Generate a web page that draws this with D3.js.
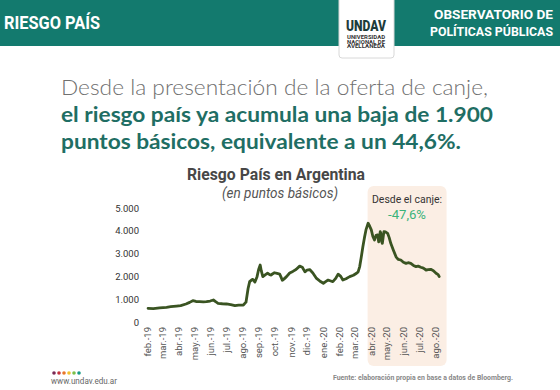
<!DOCTYPE html>
<html><head><meta charset="utf-8">
<script src="https://cdn.jsdelivr.net/npm/d3@7"></script>
<style>
html,body{margin:0;padding:0;background:#fff;}
svg{display:block;}
</style></head>
<body>
<svg id="c" width="560" height="390"></svg>
<script>
// ---- data ----
const dates = ["2019-02-03","2019-02-13","2019-02-25","2019-03-10","2019-03-18","2019-03-29","2019-04-06","2019-04-16","2019-04-23","2019-04-29",
"2019-05-05","2019-05-12","2019-05-19","2019-05-25","2019-06-01","2019-06-07","2019-06-12","2019-06-16","2019-06-24","2019-07-02",
"2019-07-10","2019-07-18","2019-07-25","2019-08-03","2019-08-08","2019-08-12","2019-08-15","2019-08-19","2019-08-21","2019-08-25",
"2019-08-29","2019-09-01","2019-09-04","2019-09-06","2019-09-09","2019-09-14","2019-09-18","2019-09-22","2019-09-25","2019-09-28",
"2019-10-01","2019-10-06","2019-10-11","2019-10-13","2019-10-16","2019-10-19","2019-10-24","2019-10-30","2019-11-05","2019-11-11",
"2019-11-18","2019-11-23","2019-11-28","2019-12-02","2019-12-07","2019-12-13","2019-12-20","2019-12-26","2020-01-02","2020-01-07",
"2020-01-11","2020-01-16","2020-01-20","2020-01-25","2020-01-30","2020-02-04","2020-02-08","2020-02-14","2020-02-21","2020-02-28",
"2020-03-05","2020-03-08","2020-03-11","2020-03-14","2020-03-17","2020-03-20","2020-03-23","2020-03-27","2020-03-30","2020-04-02",
"2020-04-05","2020-04-08","2020-04-11","2020-04-14","2020-04-16","2020-04-17","2020-04-19","2020-04-20","2020-04-22","2020-04-23",
"2020-04-25","2020-04-26","2020-04-29","2020-05-03","2020-05-06","2020-05-09","2020-05-14","2020-05-19","2020-05-23","2020-05-28",
"2020-06-02","2020-06-07","2020-06-11","2020-06-16","2020-06-21","2020-06-26","2020-06-30","2020-07-05","2020-07-10","2020-07-15",
"2020-07-19","2020-07-24","2020-07-29","2020-08-03","2020-08-07","2020-08-09"];
const values = [600,590,620,645,670,700,720,790,860,935,
900,890,880,890,920,965,880,820,800,790,
760,720,740,745,870,1470,1770,1850,1870,1750,
1990,2300,2500,2250,1990,2080,2140,2080,2060,2120,
2160,2130,2100,2000,1830,1880,1990,2150,2220,2300,
2450,2400,2200,2280,2300,2150,1910,1800,1700,1780,
1840,1800,1770,1900,2100,2000,1840,1900,1990,2050,
2140,2200,2430,2850,3300,3700,4050,4330,4200,4040,
3750,3600,3800,3820,3520,3600,3960,3900,3500,3450,
3800,3960,3950,3890,3700,3450,3150,2860,2750,2720,
2620,2570,2600,2570,2480,2430,2450,2400,2360,2280,
2300,2310,2250,2140,2080,1990];
const monthTicks = ["2019-02-01","2019-03-01","2019-04-01","2019-05-01","2019-06-01","2019-07-01","2019-08-01","2019-09-01","2019-10-01","2019-11-01",
"2019-12-01","2020-01-01","2020-02-01","2020-03-01","2020-04-01","2020-05-01","2020-06-01","2020-07-01","2020-08-01"];
const monthLabels = ["feb.-19","mar.-19","abr.-19","may.-19","jun.-19","jul.-19","ago.-19","sep.-19","oct.-19","nov.-19",
"dic.-19","ene.-20","feb.-20","mar.-20","abr.-20","may.-20","jun.-20","jul.-20","ago.-20"];
const yTicks = [0,1000,2000,3000,4000,5000];
const canjeStart = "2020-03-26";
const canjeEnd = "2020-08-23";
const headerTitle = "RIESGO PAÍS";
const orgLines = ["OBSERVATORIO DE","POLÍTICAS PÚBLICAS"];
const headline = ["Desde la presentación de la oferta de canje,","el riesgo país ya acumula una baja de 1.900","puntos básicos, equivalente a un 44,6%."];
const chartTitle = "Riesgo País en Argentina";
const chartSub = "(en puntos básicos)";
const canjeLabel = "Desde el canje:";
const canjePct = "-47,6%";
const dotColors = ["#7a2a55","#c8323c","#e8772a","#f2c12e","#7cbf4a","#179a86"];

// ---- drawing ----
const parse = d3.timeParse("%Y-%m-%d");
const series = dates.map((d,i)=>({date:parse(d), v:values[i]}));
const svg = d3.select("#c");
const loc = d3.formatLocale({decimal:",", thousands:".", grouping:[3], currency:["$",""]});
const fmt = loc.format(",d");

// header
svg.append("rect").attr("x",0).attr("y",0).attr("width",560).attr("height",46).attr("fill","#137a6e");
svg.append("text").attr("x",4).attr("y",29).text(headerTitle)
  .attr("font-family","Roboto").attr("font-weight",700).attr("font-size",18).attr("fill","#fff")
  .attr("textLength",96).attr("lengthAdjust","spacingAndGlyphs");
orgLines.forEach((t,i)=>{
  svg.append("text").attr("x",553).attr("y",19+i*17).attr("text-anchor","end").text(t)
    .attr("font-family","Roboto").attr("font-weight",700).attr("font-size",13).attr("fill","#fff")
    .attr("textLength",i===0?119:123).attr("lengthAdjust","spacingAndGlyphs");
});
// logo box
svg.append("rect").attr("x",339).attr("y",-4).attr("width",55).attr("height",62).attr("rx",3)
  .attr("fill","#fff").attr("stroke","#d8d8d8").attr("stroke-width",1);
svg.append("text").attr("x",366).attr("y",31).attr("text-anchor","middle").text("UNDAV")
  .attr("font-family","Roboto").attr("font-weight",900).attr("font-size",15).attr("fill","#1d3b3a")
  .attr("textLength",40).attr("lengthAdjust","spacingAndGlyphs");
["UNIVERSIDAD","NACIONAL DE","AVELLANEDA"].forEach((t,i)=>{
  svg.append("text").attr("x",366).attr("y",39+i*4.6).attr("text-anchor","middle").text(t)
    .attr("font-family","Roboto").attr("font-weight",700).attr("font-size",4.6).attr("fill","#333")
    .attr("textLength",38).attr("lengthAdjust","spacingAndGlyphs");
});

// headline
const hlLens = [427,432,400];
headline.forEach((t,i)=>{
  svg.append("text").attr("x",61).attr("y",95+i*27).text(t)
    .attr("font-family","Lato").attr("font-weight",i===0?300:700).attr("font-size",21)
    .attr("fill",i===0?"#707070":"#1f6e64")
    .attr("textLength",hlLens[i]).attr("lengthAdjust","spacingAndGlyphs");
});

// scales
const x = d3.scaleTime().domain([parse("2019-02-01"), parse("2020-08-01")]).range([147,435]);
const y = d3.scaleLinear().domain([0,5000]).range([322,208]);

// shaded region
svg.append("rect").attr("x",x(parse(canjeStart))).attr("y",186)
  .attr("width",x(parse(canjeEnd))-x(parse(canjeStart))).attr("height",180).attr("rx",6)
  .attr("fill","#fbeee4");

// chart titles
svg.append("text").attr("x",276).attr("y",180).attr("text-anchor","middle").text(chartTitle)
  .attr("font-family","Roboto").attr("font-weight",700).attr("font-size",16).attr("fill","#474747")
  .attr("textLength",178).attr("lengthAdjust","spacingAndGlyphs");
svg.append("text").attr("x",280).attr("y",198).attr("text-anchor","middle").text(chartSub)
  .attr("font-family","Roboto").attr("font-style","italic").attr("font-size",15).attr("fill","#555")
  .attr("textLength",116).attr("lengthAdjust","spacingAndGlyphs");

svg.append("text").attr("x",407).attr("y",203).attr("text-anchor","middle").text(canjeLabel)
  .attr("font-family","Roboto").attr("font-size",10.5).attr("fill","#333")
  .attr("textLength",70).attr("lengthAdjust","spacingAndGlyphs");
svg.append("text").attr("x",407).attr("y",219).attr("text-anchor","middle").text(canjePct)
  .attr("font-family","Roboto").attr("font-size",13).attr("fill","#3ab37a")
  .attr("textLength",38).attr("lengthAdjust","spacingAndGlyphs");

// y axis
const ya = svg.append("g").attr("transform","translate(139,0)")
  .call(d3.axisLeft(y).tickValues(yTicks).tickFormat(fmt).tickSize(0).tickPadding(0));
ya.select(".domain").remove();
ya.selectAll("text").attr("font-family","Roboto").attr("font-size",9.5).attr("fill","#333");

// x axis
const xa = svg.append("g").attr("transform","translate(0,322)")
  .call(d3.axisBottom(x).tickValues(monthTicks.map(parse))
    .tickFormat((d,i)=>monthLabels[i]).tickSize(0).tickPadding(0));
xa.select(".domain").remove();
xa.selectAll("text").attr("font-family","Roboto").attr("font-size",9.5).attr("fill","#555")
  .attr("text-anchor","end").attr("dy","0.35em")
  .attr("transform","translate(0,5) rotate(-90)").attr("x",0).attr("y",0);

// line
svg.append("path").datum(series)
  .attr("d", d3.line().x(d=>x(d.date)).y(d=>y(d.v)))
  .attr("fill","none").attr("stroke","#3a5422").attr("stroke-width",2.8)
  .attr("stroke-linejoin","round").attr("stroke-linecap","round");

// footer
dotColors.forEach((c,i)=>{
  svg.append("circle").attr("cx",54+i*5).attr("cy",373).attr("r",1.8).attr("fill",c);
});
svg.append("text").attr("x",51).attr("y",384).text("www.undav.edu.ar")
  .attr("font-family","Roboto").attr("font-size",9).attr("fill","#666")
  .attr("textLength",66).attr("lengthAdjust","spacingAndGlyphs");
svg.append("text").attr("x",333).attr("y",380).text("Fuente: elaboración propia en base a datos de Bloomberg.")
  .attr("font-family","Roboto").attr("font-weight",700).attr("font-size",6.5).attr("fill","#888")
  .attr("textLength",180).attr("lengthAdjust","spacingAndGlyphs");
</script>
</body></html>
